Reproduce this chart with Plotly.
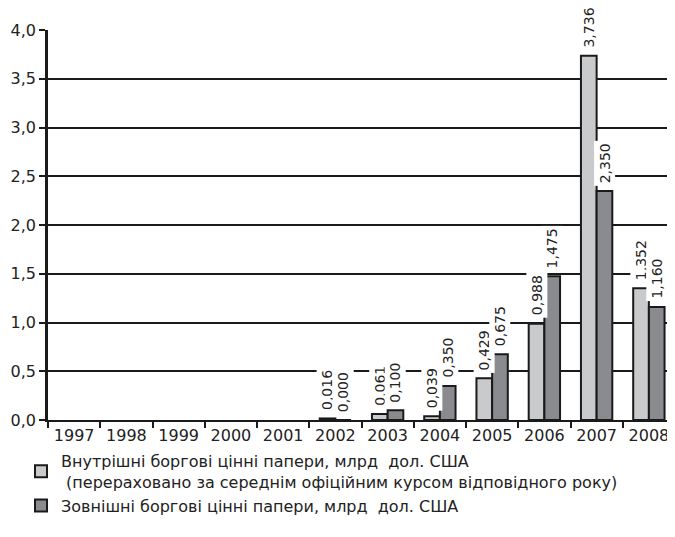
import plotly.graph_objects as go

years = ["1997", "1998", "1999", "2000", "2001", "2002", "2003", "2004", "2005", "2006", "2007", "2008"]
domestic = [None, None, None, None, None, 0.016, 0.061, 0.039, 0.429, 0.988, 3.736, 1.352]
external = [None, None, None, None, None, 0.000, 0.100, 0.350, 0.675, 1.475, 2.350, 1.160]

name_dom = "Внутрішні боргові цінні папери, млрд  дол. США<br> (перераховано за середнім офіційним курсом відповідного року)"
name_ext = "Зовнішні боргові цінні папери, млрд  дол. США"

# page has an 8px body margin, so the figure is sized to the visible area
W, H = 667, 529
ML, MR, MT, MB = 40, 0, 22, 116.5
bargap = 0.4

font_fam = "DejaVu Sans, Liberation Sans, Arial, sans-serif"

fig = go.Figure()
fig.add_bar(x=years, y=domestic, name=name_dom,
            marker=dict(color="#c9cacc", line=dict(color="#1a1a1a", width=2)))
fig.add_bar(x=years, y=external, name=name_ext,
            marker=dict(color="#8a8b8e", line=dict(color="#1a1a1a", width=2)))

cat_px = (W - ML - MR) / len(years)
off = cat_px * (1 - bargap) / 4

def fmt(v):
    return f"{v:.3f}".replace(".", ",")

for series, sh in ((domestic, -off), (external, off)):
    for i, v in enumerate(series):
        if v is None:
            continue
        fig.add_annotation(x=i, y=v, xref="x", yref="y", xshift=sh, yshift=5,
                           text=fmt(v), textangle=-90, showarrow=False,
                           xanchor="center", yanchor="bottom",
                           bgcolor="white", borderpad=2,
                           font=dict(family=font_fam, size=14, color="#222"))

fig.update_layout(
    width=W, height=H,
    margin=dict(l=ML, r=MR, t=MT, b=MB, autoexpand=False),
    paper_bgcolor="white", plot_bgcolor="white",
    barmode="group", bargap=bargap, bargroupgap=0,
    separators=", ",
    font=dict(family=font_fam, size=16, color="#222"),
    showlegend=True,
    legend=dict(orientation="v", xref="container", yref="container",
                x=13 / W, xanchor="left", y=1 - 436 / H, yanchor="top",
                font=dict(family=font_fam, size=16, color="#222"),
                tracegroupgap=0, itemwidth=30, bgcolor="rgba(0,0,0,0)"),
    xaxis=dict(type="category", range=[-0.5, len(years) - 0.5], tickson="boundaries",
               ticks="outside", ticklen=6, automargin=False,
               tickwidth=2, tickcolor="#1a1a1a", showline=True, linecolor="#1a1a1a",
               linewidth=2, showgrid=False, tickfont=dict(size=16)),
    yaxis=dict(range=[0, 4], dtick=0.5, tickformat=".1f", showgrid=True, automargin=False,
               gridcolor="#1a1a1a", gridwidth=1.8, ticks="outside", ticklen=6,
               tickwidth=2, tickcolor="#1a1a1a", showline=True, linecolor="#1a1a1a",
               linewidth=2.5, zeroline=False, tickfont=dict(size=16)),
)

fig.write_html("out.html")
